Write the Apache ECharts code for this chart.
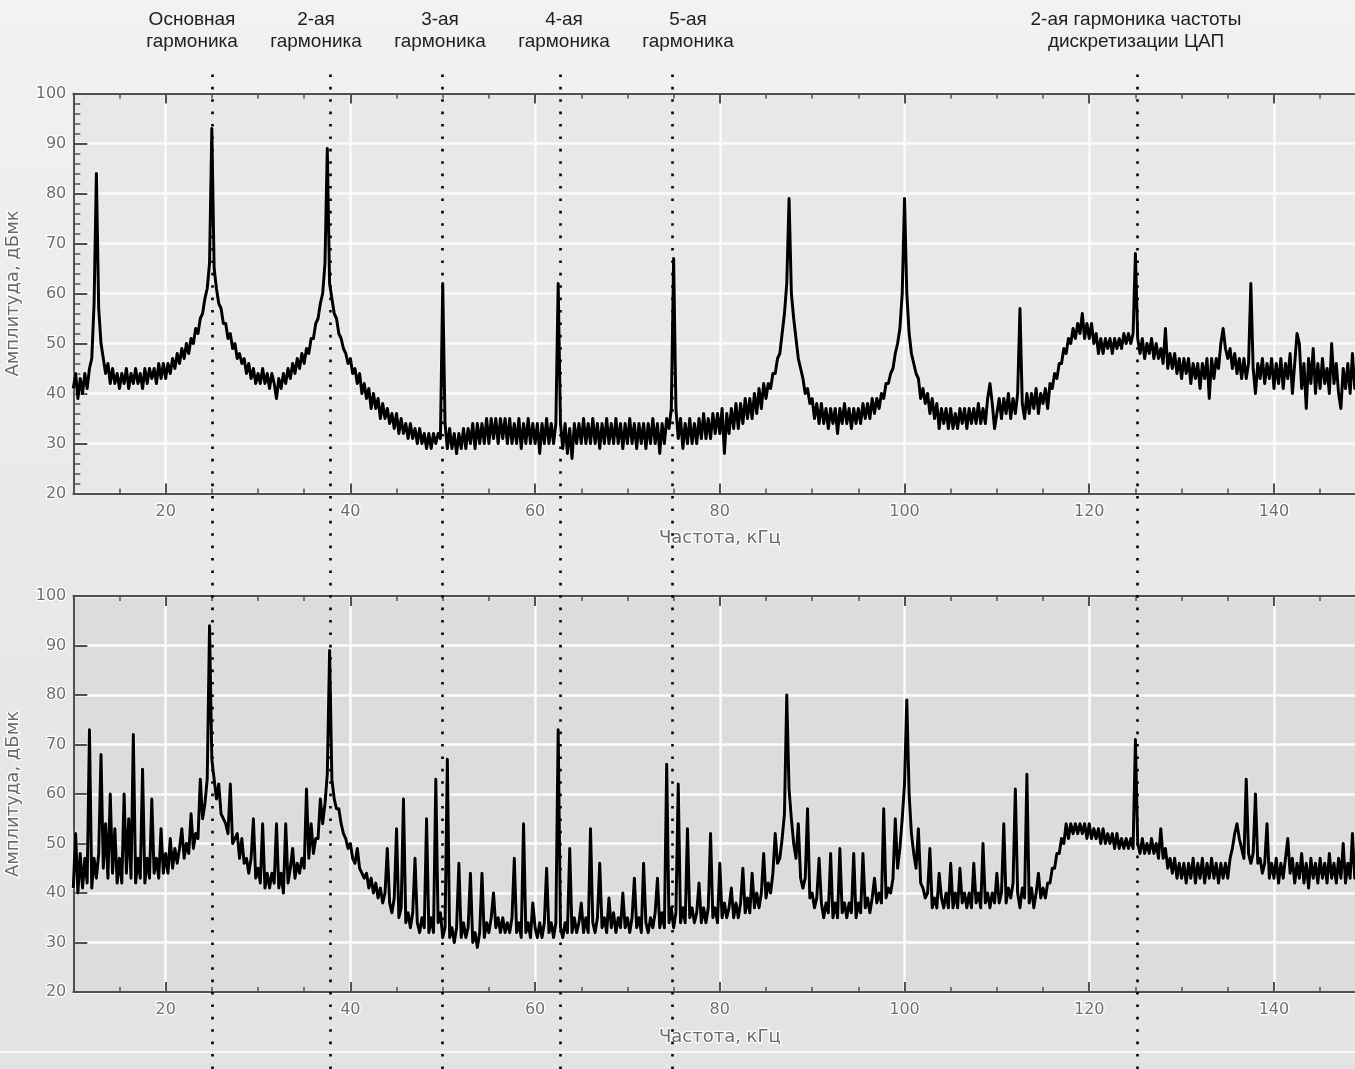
<!DOCTYPE html>
<html>
<head>
<meta charset="utf-8">
<script src="https://cdn.jsdelivr.net/npm/echarts@6/dist/echarts.min.js"></script>
<style>
html, body { margin: 0; padding: 0; background: #ececec; }
#chart { width: 1355px; height: 1069px; }
</style>
</head>
<body>
<div id="chart"></div>
<script>
// spectrum samples: 10 .. 150 kHz, one sample every 0.25 kHz (one row = 5 kHz)
const FREQ_START = 10;
const FREQ_STEP = 0.25;

const ampTop = [
  41,44,39,43,40,44,41,45,47,58,84,57,50,47,44,46,42,45,42,44,
  41,44,42,45,41,44,42,45,42,44,41,45,42,45,43,45,42,46,43,46,
  43,46,44,47,45,48,46,49,47,50,48,51,50,53,52,55,56,59,61,66,
  93,65,61,58,57,54,54,51,52,49,50,47,48,46,47,44,46,43,45,42,
  44,42,45,42,44,41,44,42,39,43,41,44,42,45,43,46,44,47,45,48,
  46,49,48,51,51,54,55,58,60,66,89,62,59,56,55,52,51,49,48,46,
  47,44,45,42,44,40,42,39,41,37,40,37,39,35,38,35,37,34,36,33,
  36,32,35,32,34,31,34,31,33,30,33,30,32,29,32,29,32,30,32,31,
  62,34,29,33,29,32,28,32,29,33,29,33,30,34,29,34,30,34,30,35,
  30,35,31,35,30,35,31,35,30,35,30,34,30,35,29,34,30,35,30,34,
  30,34,28,34,30,35,30,34,30,34,62,34,29,34,28,33,27,34,30,34,
  30,35,30,34,30,35,30,34,29,34,30,35,30,34,30,35,30,34,29,34,
  30,35,30,34,29,34,30,34,29,34,30,35,30,34,28,34,30,35,33,37,
  67,37,31,35,29,34,30,35,30,34,30,35,31,36,31,35,31,36,32,36,
  32,37,28,36,32,37,33,38,33,38,34,39,35,39,35,40,36,41,37,42,
  39,42,41,44,44,47,48,52,56,62,79,60,55,51,47,45,43,40,41,38,
  39,35,38,34,38,34,37,33,37,34,37,32,37,34,38,34,37,33,37,34,
  37,34,38,35,38,35,39,36,39,37,40,39,42,42,44,45,48,50,53,60,
  79,60,52,48,46,44,43,39,41,38,40,36,39,35,38,33,37,34,37,33,
  37,33,36,33,37,34,37,33,37,34,37,34,38,34,37,34,39,42,38,33,
  36,39,35,39,36,40,35,39,36,40,57,38,35,40,36,40,37,41,36,40,
  38,41,37,42,41,44,43,46,46,49,48,51,50,53,51,54,52,56,51,54,
  51,54,50,52,48,51,48,51,49,51,48,51,49,51,49,52,50,52,50,52,
  68,51,48,51,47,50,48,51,47,50,47,49,46,53,45,48,45,48,44,47,
  43,47,44,47,42,46,43,46,41,46,43,47,39,47,43,47,45,50,53,49,
  47,49,45,48,44,47,43,47,43,46,62,45,40,46,43,47,42,46,43,47,
  41,46,42,47,41,46,43,48,40,46,52,50,41,46,37,47,42,49,40,46,
  41,47,42,45,40,50,42,46,40,37,45,41,46,40,48,41,45,40,46,42,
  44
];

const ampBottom = [
  41,52,40,48,41,47,42,73,41,47,43,48,68,45,54,43,60,44,53,42,
  47,42,60,44,55,43,72,42,47,43,65,42,47,43,59,44,47,43,53,44,
  48,44,51,45,49,46,49,53,47,50,48,56,49,52,51,63,55,58,63,94,
  67,63,59,62,56,55,54,52,62,50,51,52,47,51,46,47,44,47,55,43,
  45,42,54,41,44,41,44,42,54,41,44,40,54,42,45,49,43,46,44,47,
  45,61,47,54,48,51,51,59,54,58,64,89,63,59,57,57,54,52,51,49,
  50,47,46,49,45,44,43,44,41,43,40,42,39,41,38,40,49,38,36,39,
  53,35,37,59,34,36,33,36,47,34,32,35,33,55,32,35,32,63,34,36,
  31,33,67,31,33,30,33,46,31,34,31,33,44,30,32,29,32,44,31,34,
  32,35,40,33,35,32,35,32,34,32,35,47,32,34,31,54,32,34,31,38,
  33,31,34,31,34,45,32,34,31,34,73,33,31,34,32,49,32,35,32,34,
  38,32,35,32,53,34,32,35,46,33,35,32,39,33,36,32,35,33,40,33,
  35,32,35,43,33,35,32,46,34,32,35,33,36,43,33,36,33,66,34,37,
  33,36,62,34,37,34,53,35,37,34,36,42,34,37,34,37,52,35,37,34,
  46,35,38,35,37,41,35,38,35,38,45,36,39,36,44,37,40,37,40,48,
  39,42,40,44,52,46,47,51,56,80,61,55,50,47,54,43,41,43,57,39,
  40,37,39,47,38,35,38,36,48,35,38,35,49,36,38,35,38,36,48,35,
  38,36,48,37,39,36,39,43,38,40,38,57,39,41,40,43,55,45,49,55,
  62,79,60,52,48,45,53,42,41,39,40,49,37,39,37,44,39,37,40,37,
  46,37,40,37,45,38,40,37,40,37,46,38,40,37,50,38,40,37,40,38,
  44,38,40,54,38,41,39,42,61,40,37,41,39,64,38,41,37,40,44,39,
  41,39,42,42,45,45,48,48,51,50,54,51,54,52,54,52,54,52,54,51,
  54,51,53,51,53,50,53,50,52,50,52,49,52,49,51,49,51,49,51,49,
  71,50,48,51,48,50,48,51,48,50,47,53,47,49,45,47,44,47,43,46,
  43,46,42,46,43,47,42,46,43,47,42,46,43,47,43,46,42,46,43,46,
  43,47,49,52,54,51,49,47,63,48,46,48,60,46,47,44,46,54,43,46,
  43,47,42,46,43,47,51,44,47,42,46,43,48,42,46,41,47,43,46,42,
  47,43,46,42,48,43,46,42,47,43,50,42,46,43,52,43,46,42,47,43,
  45
];

const xMajorTicks = [20, 40, 60, 80, 100, 120, 140];
const harmonicLines = [25, 37.8, 49.95, 62.7, 74.8, 125.15];
const harmonicTitle1 = ['Основная', '2-ая', '3-ая', '4-ая', '5-ая', '2-ая гармоника частоты'];
const harmonicTitle2 = ['гармоника', 'гармоника', 'гармоника', 'гармоника', 'гармоника', 'дискретизации ЦАП'];
const titleCenters = [192, 316, 440, 564, 688, 1136];

const GRID_LEFT = 73.3;
const GRID_WIDTH = 1293;

const axisColor = '#505050';
const tickFont = {
  color: '#6e6e6e', fontSize: 16, fontFamily: 'DejaVu Sans',
  textBorderColor: '#ffffff', textBorderWidth: 2.5
};
const nameFont = {
  color: '#6a6a6a', fontSize: 18, fontFamily: 'DejaVu Sans',
  textBorderColor: '#ffffff', textBorderWidth: 2.5
};

function toPoints(arr) {
  return arr.map((v, i) => [FREQ_START + i * FREQ_STEP, v]);
}

function xAxesFor(gridIndex) {
  const base = { gridIndex: gridIndex, type: 'value', min: 10, max: 150, interval: 5 };
  const lineOn = { show: true, onZero: false, lineStyle: { color: axisColor, width: 2 } };
  return [
    Object.assign({}, base, {
      position: 'bottom',
      axisLine: lineOn,
      axisTick: { inside: true, length: 10, customValues: xMajorTicks, lineStyle: { color: axisColor, width: 2 } },
      axisLabel: Object.assign({ customValues: xMajorTicks, margin: 10 }, tickFont),
      splitLine: { show: true, lineStyle: { color: '#fbfbfb', width: 2.5 } },
      name: 'Частота, кГц', nameLocation: 'middle', nameGap: 36, nameTextStyle: nameFont
    }),
    Object.assign({}, base, {
      position: 'bottom',
      axisLine: { show: false },
      axisTick: { inside: true, length: 5, lineStyle: { color: axisColor, width: 1.5 } },
      axisLabel: { show: false }, splitLine: { show: false }
    }),
    Object.assign({}, base, {
      position: 'top',
      axisLine: lineOn,
      axisTick: { inside: true, length: 10, customValues: xMajorTicks, lineStyle: { color: axisColor, width: 2 } },
      axisLabel: { show: false }, splitLine: { show: false }
    }),
    Object.assign({}, base, {
      position: 'top',
      axisLine: { show: false },
      axisTick: { inside: true, length: 5, lineStyle: { color: axisColor, width: 1.5 } },
      axisLabel: { show: false }, splitLine: { show: false }
    })
  ];
}

function yAxisFor(gridIndex, withMinor) {
  return {
    gridIndex: gridIndex, type: 'value', min: 20, max: 100, interval: 10,
    axisLine: { show: true, lineStyle: { color: axisColor, width: 2 } },
    axisTick: { inside: true, length: 14, lineStyle: { color: axisColor, width: 2 } },
    minorTick: { show: withMinor, splitNumber: 5, length: 7, lineStyle: { color: axisColor, width: 1.5 } },
    axisLabel: Object.assign({ margin: 7 }, tickFont),
    splitLine: { show: true, lineStyle: { color: '#fbfbfb', width: 2.5 } },
    name: 'Амплитуда, дБмк', nameLocation: 'middle', nameRotate: 90, nameGap: 44,
    nameTextStyle: nameFont
  };
}

const chart = echarts.init(document.getElementById('chart'), null, { renderer: 'canvas' });

const titleTexts = [];
titleCenters.forEach((cx, i) => {
  titleTexts.push({
    type: 'text', x: cx, y: 20,
    style: { text: harmonicTitle1[i], font: '19px "Liberation Sans"', fill: '#1e1e1e', textAlign: 'center', textVerticalAlign: 'middle' }
  });
  titleTexts.push({
    type: 'text', x: cx, y: 42,
    style: { text: harmonicTitle2[i], font: '19px "Liberation Sans"', fill: '#1e1e1e', textAlign: 'center', textVerticalAlign: 'middle' }
  });
});

// thick trace so the dense noise reads as a solid band, like the analyser plot
const traceStyle = { color: '#000', width: 3, join: 'round', shadowColor: 'rgba(255,255,255,0.9)', shadowBlur: 2 };

const option = {
  animation: false,
  backgroundColor: new echarts.graphic.LinearGradient(0, 0, 0, 1, [
    { offset: 0, color: '#f2f2f2' },
    { offset: 0.5, color: '#e9e9e9' },
    { offset: 1, color: '#e3e3e3' }
  ]),
  grid: [
    { left: GRID_LEFT, top: 93.5, width: GRID_WIDTH, height: 400, show: true, borderWidth: 0, backgroundColor: '#e8e8e8', outerBoundsMode: 'none', containLabel: false },
    { left: GRID_LEFT, top: 596, width: GRID_WIDTH, height: 396, show: true, borderWidth: 0, backgroundColor: '#dcdcdc', outerBoundsMode: 'none', containLabel: false },
    { left: GRID_LEFT, top: 66, width: GRID_WIDTH, bottom: 0, outerBoundsMode: 'none', containLabel: false }
  ],
  xAxis: xAxesFor(0).concat(xAxesFor(1)).concat([
    { gridIndex: 2, type: 'value', min: 10, max: 150, show: false }
  ]),
  yAxis: [
    yAxisFor(0, true),
    yAxisFor(1, false),
    { gridIndex: 2, type: 'value', min: 0, max: 1, show: false }
  ],
  graphic: titleTexts.concat([
    { type: 'line', shape: { x1: 0, y1: 1052, x2: 1355, y2: 1052 }, style: { stroke: '#f7f7f7', lineWidth: 2 } }
  ]),
  series: [
    {
      type: 'line', xAxisIndex: 0, yAxisIndex: 0, data: toPoints(ampTop),
      showSymbol: false, symbol: 'none', sampling: null, lineStyle: traceStyle
    },
    {
      type: 'line', xAxisIndex: 4, yAxisIndex: 1, data: toPoints(ampBottom),
      showSymbol: false, symbol: 'none', sampling: null, lineStyle: traceStyle
    },
    {
      type: 'line', xAxisIndex: 8, yAxisIndex: 2, data: [], z: 10,
      markLine: {
        silent: true, symbol: ['none', 'none'], label: { show: false },
        lineStyle: { color: '#000', width: 2.6, type: [2.6, 9.8], cap: 'butt' },
        data: harmonicLines.map(v => ({ xAxis: v }))
      }
    }
  ]
};

chart.setOption(option);
</script>
</body>
</html>
